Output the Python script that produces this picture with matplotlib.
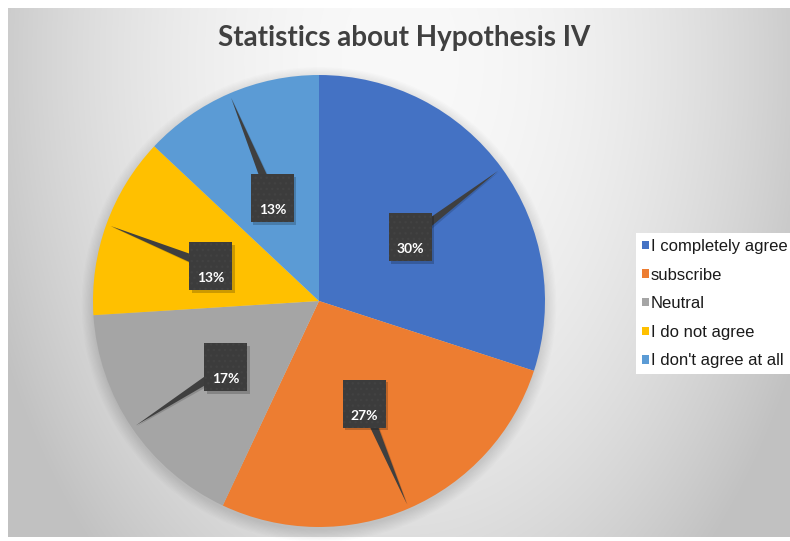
import numpy as np
import matplotlib
matplotlib.use("Agg")
import matplotlib.pyplot as plt
from matplotlib.patches import Rectangle, Polygon, Circle

# ---- data ----
categories = ["I completely agree", "subscribe", "Neutral", "I do not agree", "I don't agree at all"]
values = [30, 27, 17, 13, 13]
pct_labels = ["30%", "27%", "17%", "13%", "13%"]
colors = ["#4472C4", "#ED7D31", "#A5A5A5", "#FFC000", "#5B9BD5"]
title = "Statistics about Hypothesis IV"

# label box centres (in pie-radius units)
label_pos = [(0.403, 0.281), (0.201, -0.456), (-0.412, -0.294), (-0.478, 0.153), (-0.206, 0.454)]

W, H = 790, 541
fig = plt.figure(figsize=(W / 100, H / 100), dpi=100)
fig.patch.set_facecolor("white")

# ---- background gradient ----
bg = fig.add_axes([0, 0, 1, 1])
bg.set_xlim(0, W)
bg.set_ylim(H, 0)
bg.axis("off")
x0, x1, y0, y1 = 8, 790, 8, 537
xx, yy = np.meshgrid(np.arange(x0, x1), np.arange(y0, y1))
d = np.sqrt(((xx - 400) / 400.0) ** 2 + ((yy - 60) / 620.0) ** 2)
c = 249 - 46 * np.clip(d, 0, 1.1) ** 2
img = np.dstack([c, c, c]) / 255.0
bg.imshow(img, extent=(x0, x1, y1, y0), aspect="auto", interpolation="bilinear")

# ---- pie ----
cx, cy, R = 319, 301, 226
ax = fig.add_axes([(cx - R) / W, (H - cy - R) / H, 2 * R / W, 2 * R / H])

wedges, _ = ax.pie(values, colors=colors, startangle=90, counterclock=False, radius=1,
                   wedgeprops=dict(linewidth=0))
ax.set_xlim(-1, 1)
ax.set_ylim(-1, 1)
ax.axis("off")
for w in wedges:
    w.set_zorder(1)

# soft shadow
for r in np.linspace(1.0, 1.05, 10):
    ax.add_patch(Circle((0.0, -0.015), r, color="black", alpha=0.012, lw=0, zorder=0,
                        clip_on=False))

total = float(sum(values))
cum = 0.0
bw, bh = 43 / R, 48 / R
for i, v in enumerate(values):
    mid = np.deg2rad(90 - 360 * (cum + v / 2) / total)
    cum += v
    tip = np.array([0.98 * np.cos(mid), 0.98 * np.sin(mid)])
    bx, by = label_pos[i]
    ctr = np.array([bx, by])
    dvec = tip - ctr
    dvec /= np.linalg.norm(dvec)
    perp = np.array([-dvec[1], dvec[0]])
    hw = 0.022
    # pointer shadow
    ax.add_patch(Polygon([ctr + perp * hw + [0.008, -0.008], ctr - perp * hw + [0.008, -0.008],
                          tip + [0.004, -0.004]],
                         closed=True, color="black", alpha=0.15, lw=0, zorder=2))
    ax.add_patch(Polygon([ctr + perp * hw, ctr - perp * hw, tip], closed=True,
                         color="#3f3f3f", lw=0, zorder=3))
    # box shadow
    ax.add_patch(Rectangle((bx - bw / 2 + 0.01, by - bh / 2 - 0.01), bw, bh,
                           color="black", alpha=0.2, lw=0, zorder=3))
    ax.add_patch(Rectangle((bx - bw / 2, by - bh / 2), bw, bh, facecolor="#3c3c3c",
                           edgecolor="#424242", hatch="...", lw=0, zorder=4))
    ax.text(bx, by - bh / 2 + 0.055, pct_labels[i], ha="center", va="center",
            color="white", fontsize=10, fontweight="bold", family="Lato", zorder=5)

# ---- title ----
fig.text(404 / W, 1 - 38 / H, title, ha="center", va="center", fontsize=20,
         fontweight="bold", family="Lato", color="#404040")

# ---- legend ----
leg = fig.legend(wedges, categories, loc="upper left",
                 bbox_to_anchor=(636 / W, 1 - 233 / H),
                 frameon=True, fancybox=False, facecolor="white", edgecolor="none",
                 prop=dict(family="Liberation Sans", size=12),
                 handlelength=0.4, handleheight=0.4, handletextpad=0.15,
                 labelspacing=0.82, borderpad=0.35, borderaxespad=0)
leg.get_frame().set_alpha(1)
for t in leg.get_texts():
    t.set_color("#1a1a1a")

fig.savefig("out.png", dpi=100)
